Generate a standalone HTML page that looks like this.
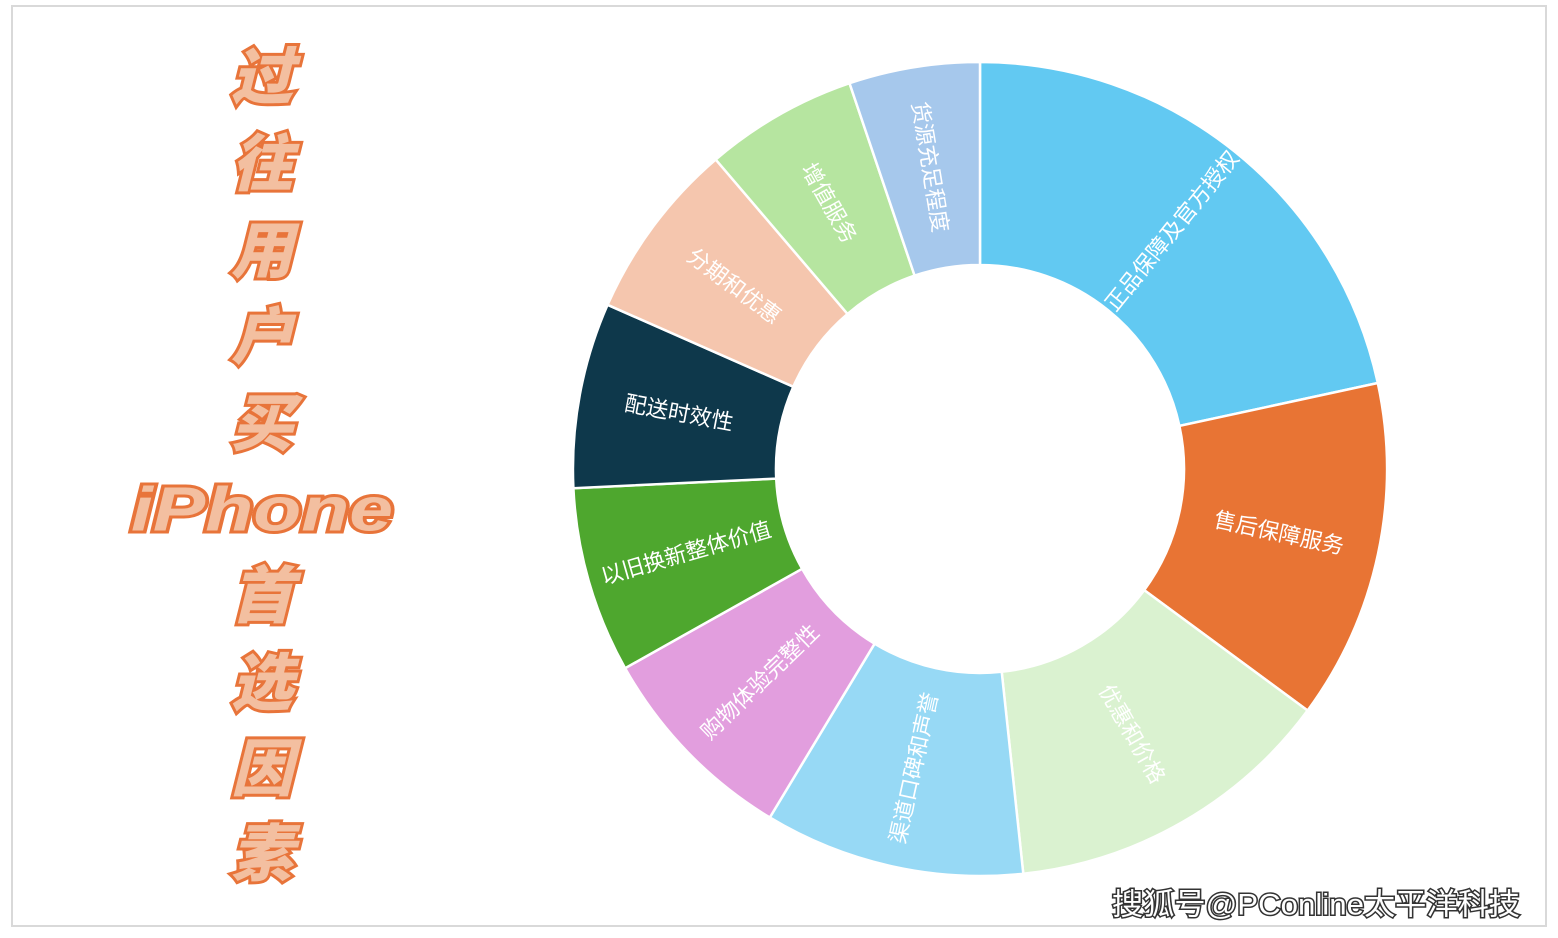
<!DOCTYPE html>
<html><head><meta charset="utf-8"><style>
html,body{margin:0;padding:0;background:#fff;}
svg{display:block;}
.t{font-family:"Liberation Sans","Noto Sans CJK SC",sans-serif;fill:#fff;font-size:22px;text-anchor:middle;dominant-baseline:central;}
.h{font-family:"Liberation Sans","Noto Sans CJK SC",sans-serif;font-weight:900;font-style:italic;font-size:62px;fill:#f3bfa0;stroke:#e8743a;stroke-width:6;paint-order:stroke;text-anchor:middle;dominant-baseline:central;}
</style></head><body>
<svg width="1558" height="938" viewBox="0 0 1558 938">
<rect x="12" y="6" width="1534" height="920" fill="#fff" stroke="#d9d9d9" stroke-width="2"/>
<g stroke="#fff" stroke-width="2.5">
<path d="M980,62 A407,407 0 0 1 1377.8,383 L1179.4,425.9 A204,204 0 0 0 980,265 Z" fill="#62c9f2"/>
<path d="M1377.8,383 A407,407 0 0 1 1307.6,710.5 L1144.2,590.1 A204,204 0 0 0 1179.4,425.9 Z" fill="#e87434"/>
<path d="M1307.6,710.5 A407,407 0 0 1 1023.3,873.7 L1001.7,671.8 A204,204 0 0 0 1144.2,590.1 Z" fill="#daf2d0"/>
<path d="M1023.3,873.7 A407,407 0 0 1 769.8,817.5 L874.6,643.7 A204,204 0 0 0 1001.7,671.8 Z" fill="#97d9f5"/>
<path d="M769.8,817.5 A407,407 0 0 1 625.1,668.2 L802.1,568.8 A204,204 0 0 0 874.6,643.7 Z" fill="#e29ede"/>
<path d="M625.1,668.2 A407,407 0 0 1 573.4,488.2 L776.2,478.6 A204,204 0 0 0 802.1,568.8 Z" fill="#4ea72e"/>
<path d="M573.4,488.2 A407,407 0 0 1 607.6,304.8 L793.3,386.7 A204,204 0 0 0 776.2,478.6 Z" fill="#0e384b"/>
<path d="M607.6,304.8 A407,407 0 0 1 715.7,159.5 L847.5,313.9 A204,204 0 0 0 793.3,386.7 Z" fill="#f5c6ae"/>
<path d="M715.7,159.5 A407,407 0 0 1 849.5,83.2 L914.6,275.6 A204,204 0 0 0 847.5,313.9 Z" fill="#b6e5a0"/>
<path d="M849.5,83.2 A407,407 0 0 1 980,62 L980,265 A204,204 0 0 0 914.6,275.6 Z" fill="#a6c8ec"/>
</g>
<text class="t" transform="translate(1172,231) rotate(-51.1)">正品保障及官方授权</text>
<text class="t" transform="translate(1279,533) rotate(12.1)">售后保障服务</text>
<text class="t" transform="translate(1132,734) rotate(60.15)">优惠和价格</text>
<text class="t" transform="translate(914,768) rotate(-77.5)">渠道口碑和声誉</text>
<text class="t" transform="translate(760,682) rotate(-44.1)">购物体验完整性</text>
<text class="t" transform="translate(686,553) rotate(-16)">以旧换新整体价值</text>
<text class="t" transform="translate(679,413) rotate(10.55)">配送时效性</text>
<text class="t" transform="translate(734,286) rotate(36.65)">分期和优惠</text>
<text class="t" transform="translate(829,203) rotate(60.4)">增值服务</text>
<text class="t" transform="translate(930,167) rotate(80.65)">货源充足程度</text>
<text class="h" x="262" y="78">过</text>
<text class="h" x="262" y="165">往</text>
<text class="h" x="262" y="252">用</text>
<text class="h" x="262" y="338">户</text>
<text class="h" x="262" y="425">买</text>
<text class="h" x="262" y="510" textLength="262" lengthAdjust="spacingAndGlyphs">iPhone</text>
<text class="h" x="262" y="597">首</text>
<text class="h" x="262" y="684">选</text>
<text class="h" x="262" y="770">因</text>
<text class="h" x="262" y="855">素</text>
<text x="1316" y="905" font-family="Liberation Sans,Noto Sans CJK SC,sans-serif" font-size="30" fill="#fff" stroke="#333" stroke-width="3" paint-order="stroke" text-anchor="middle" dominant-baseline="central" textLength="408" lengthAdjust="spacingAndGlyphs">搜狐号@PConline太平洋科技</text>
</svg>
</body></html>
